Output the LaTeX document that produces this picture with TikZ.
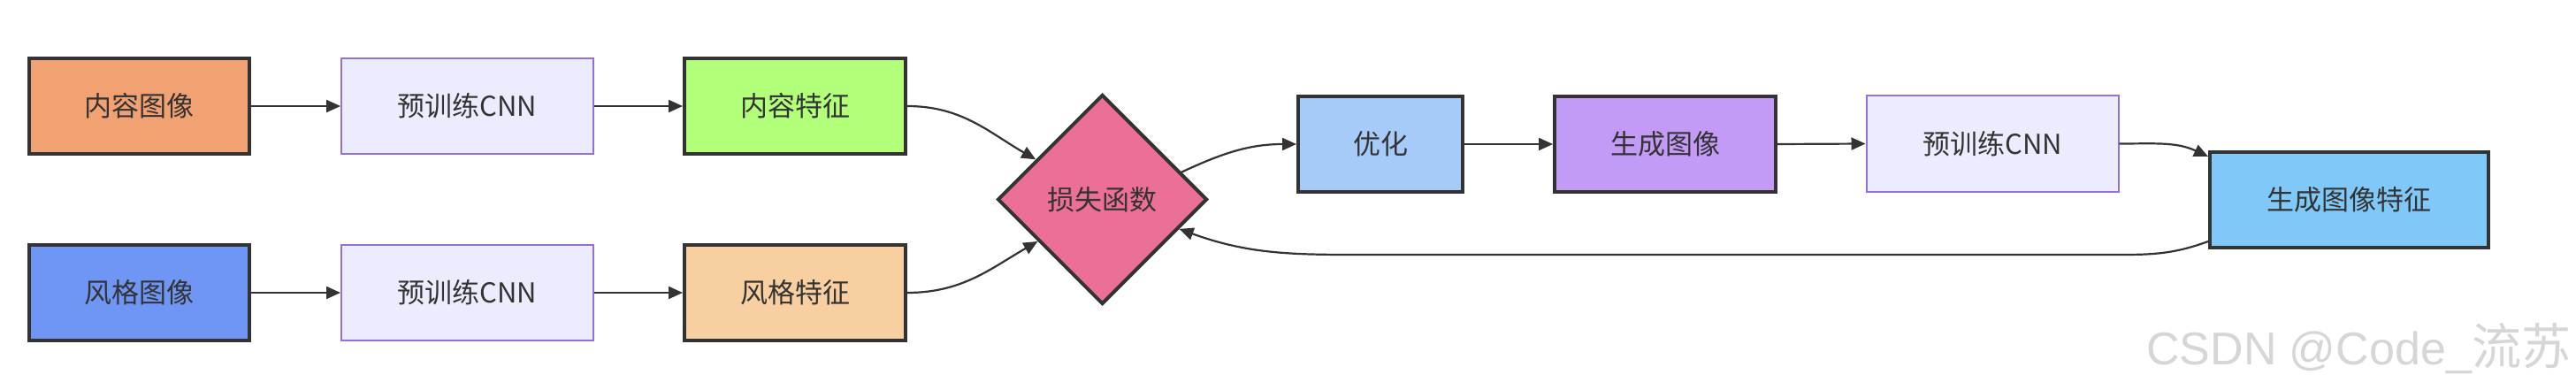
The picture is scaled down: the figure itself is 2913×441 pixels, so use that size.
\documentclass[tikz,border=0pt]{standalone}
\usepackage{fontspec}
\newfontfamily\cjk{Noto Sans CJK SC}
\setsansfont{Liberation Sans}
\usetikzlibrary{shapes.geometric,arrows.meta,calc}
\definecolor{edgec}{HTML}{333333}
\definecolor{txt}{HTML}{333333}
\definecolor{cnnfill}{HTML}{ECECFF}
\definecolor{cnnstroke}{HTML}{9370DB}
\definecolor{cA}{HTML}{F2A272}
\definecolor{cC}{HTML}{B2FF7A}
\definecolor{cD}{HTML}{6F96F5}
\definecolor{cF}{HTML}{F7CFA0}
\definecolor{cL}{HTML}{EC7096}
\definecolor{cO}{HTML}{A6CBF8}
\definecolor{cG}{HTML}{C49AF7}
\definecolor{cH}{HTML}{7FC8F8}
\definecolor{wm}{HTML}{D6D6D6}
\begin{document}
\begin{tikzpicture}[x=1pt,y=-1pt,
  lbl/.style={font=\cjk\fontsize{31}{37}\selectfont,text=txt,inner sep=0pt},
  box/.style={lbl,rectangle,draw=edgec,line width=4pt,minimum height=108pt},
  cnnbox/.style={lbl,rectangle,draw=cnnstroke,fill=cnnfill,line width=2pt,minimum width=285pt,minimum height=108pt},
  conn/.style={draw=edgec,line width=2.2pt,-{Triangle[length=16pt,width=14pt]}}]
\useasboundingbox[fill=white] (0,0) rectangle (2913,441);
\node[box,fill=cA,minimum width=249pt] (A) at (157.5,120) {内容图像};
\node[cnnbox] (B) at (528.5,120) {预训练CNN};
\node[box,fill=cC,minimum width=250pt] (C) at (899,120) {内容特征};
\node[box,fill=cD,minimum width=249pt] (D) at (157.5,331) {风格图像};
\node[cnnbox] (E) at (528.5,331) {预训练CNN};
\node[box,fill=cF,minimum width=250pt] (F) at (899,331) {风格特征};
\node[lbl,diamond,draw=edgec,fill=cL,line width=4pt,aspect=1,minimum width=237pt,minimum height=237pt] (L) at (1246.5,225.5) {损失函数};
\node[box,fill=cO,minimum width=186pt] (O) at (1561,163) {优化};
\node[box,fill=cG,minimum width=250pt] (G1) at (1883,163) {生成图像};
\node[cnnbox] (H) at (2253,162.5) {预训练CNN};
\node[box,fill=cH,minimum width=315pt] (G) at (2656.5,226) {生成图像特征};
\node[anchor=base west,inner sep=0pt,font=\sffamily\fontsize{52}{60}\selectfont,text=wm] (W) at (2427,412) {CSDN @Code\_{\cjk\fontsize{56}{60}\selectfont 流苏}};
\draw[conn] (A.east) -- (B.west);
\draw[conn] (B.east) -- (C.west);
\draw[conn] (D.east) -- (E.west);
\draw[conn] (E.east) -- (F.west);
\draw[conn] (C.east) to[out=0,in=150] (L.149);
\draw[conn] (F.east) to[out=0,in=210] (L.213);
\draw[conn] (L.19) to[out=25,in=180] (O.west);
\draw[conn] (O.east) -- (G1.west);
\draw[conn] (G1.east) -- (H.west);
\draw[conn] (H.east) to[out=0,in=155] ($(G.north west)+(0,7)$);
\coordinate (R) at (2400,288);
\coordinate (Q) at (1560,288);
\draw[conn] ($(G.south west)+(0,-9)$) to[out=200,in=0] (R) -- (Q) to[out=180,in=-20] (L.339);
\end{tikzpicture}
\end{document}
